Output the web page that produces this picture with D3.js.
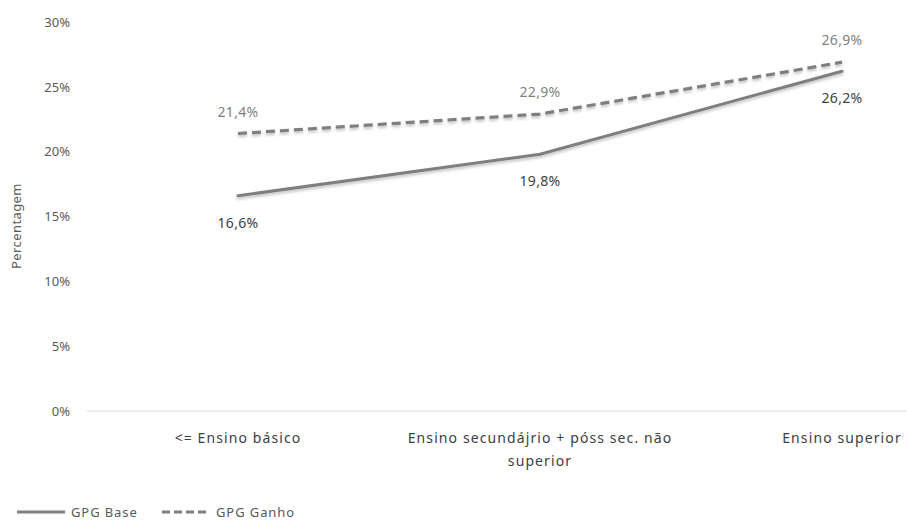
<!DOCTYPE html>
<html>
<head>
<meta charset="utf-8">
<script src="https://cdn.jsdelivr.net/npm/d3@7"></script>
<style>
  body { margin: 0; background: #fff; }
  svg { font-family: "Noto Sans", "Open Sans", sans-serif; }
</style>
</head>
<body>
<svg id="chart" width="907" height="520"></svg>
<script>
var categories = ["<= Ensino básico", "Ensino secundájrio + póss sec. não superior", "Ensino superior"]
var catLines = [["<= Ensino básico"], ["Ensino secundájrio + póss sec. não", "superior"], ["Ensino superior"]]
var gpgBase = [16.6, 19.8, 26.2]
var gpgGanho = [21.4, 22.9, 26.9]
var yTicks = [0, 5, 10, 15, 20, 25, 30]

var svg = d3.select('#chart'),
    width = +svg.attr("width"),
    height = +svg.attr("height")

var x = d3.scaleBand()
  .domain(categories)
  .range([87, 993])

var y = d3.scaleLinear()
  .domain([0, 30])
  .range([411, 22])

var fmt = function(v) { return v.toFixed(1).replace('.', ',') + '%' }

// shadow for the lines
var defs = svg.append('defs')
var f = defs.append('filter').attr('id', 'shadow')
  .attr('x', '-10%').attr('y', '-50%').attr('width', '120%').attr('height', '200%')
f.append('feDropShadow')
  .attr('dx', 0).attr('dy', 2).attr('stdDeviation', 1.5)
  .attr('flood-color', '#000').attr('flood-opacity', 0.25)

// baseline
svg.append('line')
  .attr('x1', 87).attr('x2', width)
  .attr('y1', y(0)).attr('y2', y(0))
  .attr('stroke', '#d9d9d9').attr('stroke-width', 1)

// y axis labels
var yAxis = d3.axisLeft(y)
  .tickValues(yTicks)
  .tickFormat(function(d) { return d + '%' })
  .tickSize(0)
  .tickPadding(0)

var ya = svg.append('g')
  .attr('transform', 'translate(70,0)')
  .call(yAxis)
ya.select('.domain').remove()
ya.selectAll('text')
  .attr('font-size', '13px')
  .attr('fill', '#595959')
  .attr('font-family', '"Noto Sans", sans-serif')

svg.append('text')
  .attr('transform', 'translate(21,226) rotate(-90)')
  .attr('text-anchor', 'middle')
  .attr('font-size', '13px')
  .attr('letter-spacing', '0.4px')
  .attr('fill', '#595959')
  .text('Percentagem')

// x labels
var xl = svg.append('g').selectAll('text')
  .data(catLines).enter()
  .append('text')
  .attr('text-anchor', 'middle')
  .attr('font-size', '14px')
  .attr('letter-spacing', '1.1px')
  .attr('fill', '#404040')
  .attr('x', function(d, i) { return x(categories[i]) + x.bandwidth() / 2 })
  .attr('y', 443)
xl.selectAll('tspan')
  .data(function(d) { return d }).enter()
  .append('tspan')
  .attr('x', function() { return d3.select(this.parentNode).attr('x') })
  .attr('dy', function(d, i) { return i === 0 ? 0 : 23 })
  .text(function(d) { return d })

var cx = function(d, i) { return x(categories[i]) + x.bandwidth() / 2 }
var line = d3.line()
  .x(function(d, i) { return cx(d, i) })
  .y(function(d) { return y(d) })

svg.append('path')
  .attr('d', line(gpgBase))
  .attr('fill', 'none')
  .attr('stroke', '#7f7f7f')
  .attr('stroke-width', 3)
  .attr('stroke-linecap', 'round')
  .attr('filter', 'url(#shadow)')

svg.append('path')
  .attr('d', line(gpgGanho))
  .attr('fill', 'none')
  .attr('stroke', '#7f7f7f')
  .attr('stroke-width', 3.2)
  .attr('stroke-dasharray', '9,5')
  .attr('filter', 'url(#shadow)')

// value labels
svg.append('g').selectAll('text')
  .data(gpgGanho).enter()
  .append('text')
  .attr('text-anchor', 'middle')
  .attr('font-size', '14px')
  .attr('letter-spacing', '0.3px')
  .attr('fill', '#7f7f7f')
  .attr('x', cx)
  .attr('y', function(d) { return y(d) - 17 })
  .text(fmt)

svg.append('g').selectAll('text')
  .data(gpgBase).enter()
  .append('text')
  .attr('text-anchor', 'middle')
  .attr('font-size', '14px')
  .attr('letter-spacing', '0.3px')
  .attr('fill', '#404040')
  .attr('x', cx)
  .attr('y', function(d) { return y(d) + 32 })
  .text(fmt)

// legend
var legend = [
  { name: 'GPG Base', dash: null, x: 17 },
  { name: 'GPG Ganho', dash: '8,4', x: 162 }
]
var lg = svg.append('g').selectAll('g')
  .data(legend).enter().append('g')
lg.append('line')
  .attr('x1', function(d) { return d.x })
  .attr('x2', function(d) { return d.x + 48 })
  .attr('y1', 512).attr('y2', 512)
  .attr('stroke', '#7f7f7f')
  .attr('stroke-width', 3)
  .attr('stroke-dasharray', function(d) { return d.dash })
lg.append('text')
  .attr('x', function(d) { return d.x + 54 })
  .attr('y', 517)
  .attr('font-size', '13px')
  .attr('letter-spacing', '0.9px')
  .attr('fill', '#595959')
  .text(function(d) { return d.name })
</script>
</body>
</html>
